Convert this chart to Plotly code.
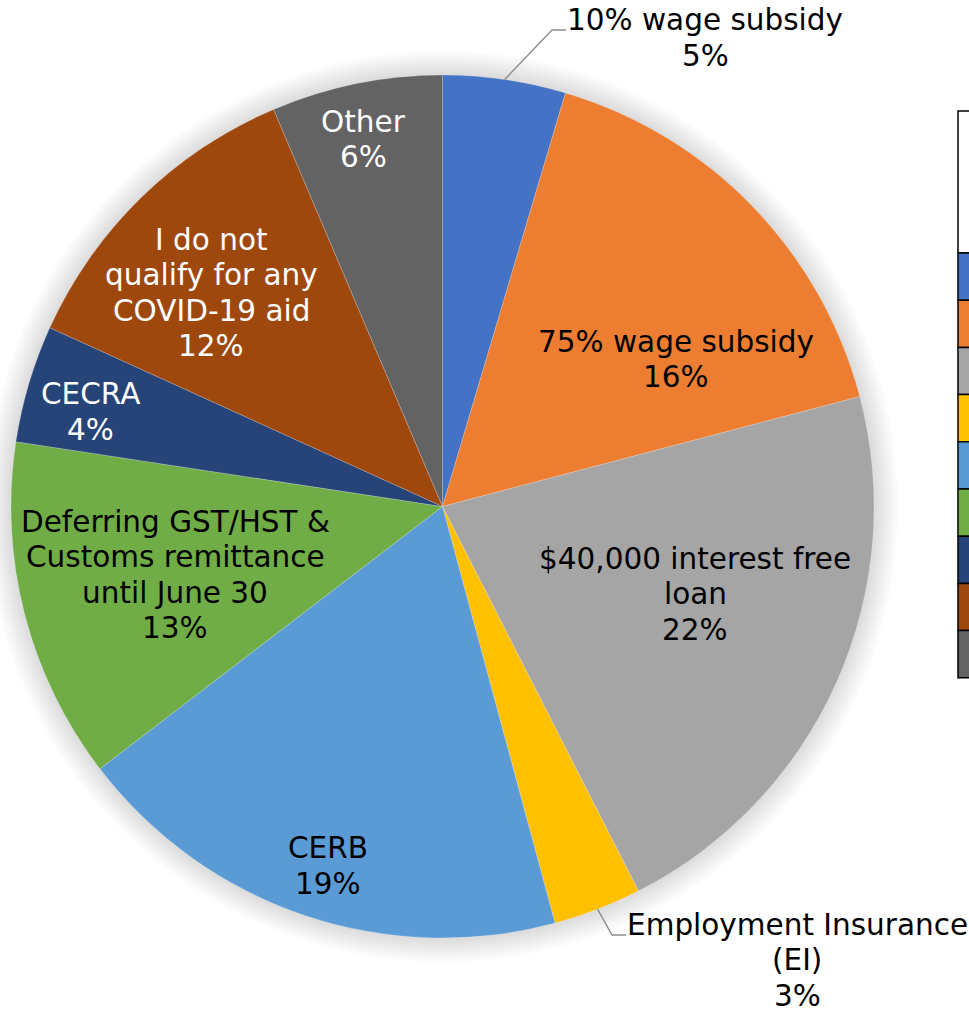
import math
import plotly.graph_objects as go

# slice data, clockwise from 12 o'clock
labels = ['10% wage subsidy', '75% wage subsidy', '$40,000 interest free loan',
          'Employment Insurance (EI)', 'CERB',
          'Deferring GST/HST & Customs remittance until June 30', 'CECRA',
          'I do not qualify for any COVID-19 aid', 'Other']
shares = [4.6, 16.3, 21.6, 3.3, 18.8, 12.8, 4.4, 11.8, 6.4]

# how each label is wrapped on the chart
label_lines = [['10% wage subsidy'], ['75% wage subsidy'], ['$40,000 interest free', 'loan'],
               ['Employment Insurance', '(EI)'], ['CERB'],
               ['Deferring GST/HST &', 'Customs remittance', 'until June 30'], ['CECRA'],
               ['I do not', 'qualify for any', 'COVID-19 aid'], ['Other']]

colors = ['#4472C4', '#ED7D31', '#A5A5A5', '#FFC000', '#5B9BD5',
          '#70AD47', '#264478', '#9E480E', '#636363']
text_colors = ['black', 'black', 'black', 'black', 'black',
               'black', 'white', 'white', 'white']

W, H = 969, 1014
cx, cy, R = 442.5, 506.5, 431.5
FONT = 'Verdana, DejaVu Sans, sans-serif'
FS = 29.5
LS = 35.5  # line spacing in px

# label placement: ('in', radius fraction, angle shift deg) or ('out', text centre x, y, leader end x, y)
placement = [
    ('out', 705, 38, 566, 30),
    ('in', 0.64, 12.0),
    ('in', 0.62, -5.0),
    ('out', 797, 960, 626, 935),
    ('in', 0.875, -1.0),
    ('in', 0.64, 0.0),
    ('in', 0.845, -1.5),
    ('in', 0.73, -3.0),
    ('in', 0.87, -0.6),
]


def px(x):
    return x / W


def py(y):
    return 1 - y / H


def polar(rf, deg):
    a = math.radians(deg)
    return cx + rf * R * math.sin(a), cy - rf * R * math.cos(a)


fig = go.Figure()

fig.add_trace(go.Pie(
    labels=labels,
    values=shares,
    sort=False,
    direction='clockwise',
    rotation=0,
    marker=dict(colors=colors, line=dict(color='rgba(255,255,255,0.5)', width=0.4)),
    textinfo='none',
    hoverinfo='label+percent',
    showlegend=False,
    domain=dict(x=[px(cx - R), px(cx + R)], y=[py(cy + R), py(cy - R)]),
))

total = sum(shares)
annotations = []
shapes = []

# soft glow around the pie
for i in range(18):
    r = R + 1 + i * 1.4
    shapes.append(dict(type='circle', xref='paper', yref='paper', layer='below',
                       x0=px(cx - r), x1=px(cx + r), y0=py(cy + r), y1=py(cy - r),
                       line=dict(width=0), fillcolor='rgba(0,0,0,0.008)'))

cum = 0
for lines, v, tc, pl in zip(label_lines, shares, text_colors, placement):
    mid = (cum + v / 2) / total * 360
    cum += v
    rows = lines + [f'{round(v / total * 100)}%']
    if pl[0] == 'in':
        x, y = polar(pl[1], mid + pl[2])
    else:
        x, y = pl[1], pl[2]
        ex, ey = polar(1.0, mid)
        lx, ly = pl[3], pl[4]
        path = f'M {px(ex)},{py(ey)} L {px(lx - 14)},{py(ly)} L {px(lx)},{py(ly)}'
        shapes.append(dict(type='path', xref='paper', yref='paper', path=path,
                           line=dict(color='#8c8c8c', width=1.4)))
    n = len(rows)
    for i, row in enumerate(rows):
        ry = y + (i - (n - 1) / 2) * LS
        annotations.append(dict(x=px(x), y=py(ry), xref='paper', yref='paper', text=row,
                                showarrow=False, xanchor='center', yanchor='middle',
                                align='center', font=dict(family=FONT, size=FS, color=tc)))

# legend box, cut off at the right edge of the page
lx0, ltop, lhead, lrow = 958, 111, 253, 47.2
shapes.append(dict(type='rect', xref='paper', yref='paper',
                   x0=px(lx0), x1=px(W + 10), y0=py(lhead), y1=py(ltop),
                   line=dict(color='black', width=1.5), fillcolor='white'))
for i, c in enumerate(colors):
    y0 = lhead + i * lrow
    shapes.append(dict(type='rect', xref='paper', yref='paper',
                       x0=px(lx0), x1=px(W + 10), y0=py(y0 + lrow), y1=py(y0),
                       line=dict(color='black', width=1.5), fillcolor=c))

fig.update_layout(
    width=W, height=H,
    margin=dict(l=0, r=0, t=0, b=0),
    paper_bgcolor='white',
    plot_bgcolor='white',
    annotations=annotations,
    shapes=shapes,
    font=dict(family=FONT),
)

# drop the page's default body margin so the figure fills the window
fig.write_html('out.html', config={'displayModeBar': False},
               post_script="document.body.style.margin='0';"
                           "document.body.style.overflow='hidden';"
                           "document.documentElement.style.overflow='hidden';")
